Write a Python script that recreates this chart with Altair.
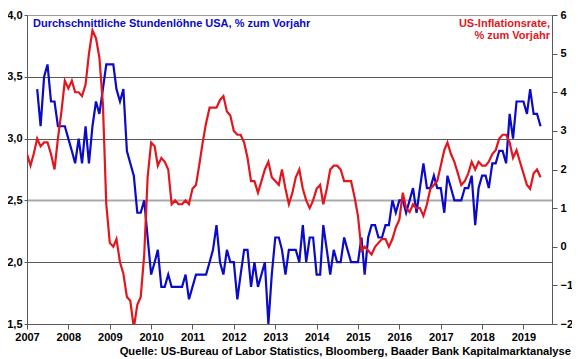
import altair as alt
import pandas as pd

# ---------------- data ----------------
years = list(range(2007, 2020))
left_ticks = [1.5, 2.0, 2.5, 3.0, 3.5, 4.0]
right_ticks = [-2, -1, 0, 1, 2, 3, 4, 5, 6]

# US inflation rate, % y/y, monthly Dec 2006 .. May 2019 (plotted at month end)
cpi_values = [
    2.4,
    2.1, 2.4, 2.8, 2.6, 2.7, 2.7, 2.4, 2.0, 2.8, 3.5, 4.3, 4.1,
    4.3, 4.0, 4.0, 3.9, 4.2, 5.0, 5.6, 5.4, 4.9, 3.7, 1.1, 0.1,
    0.0, 0.2, -0.4, -0.7, -1.3, -1.4, -2.1, -1.5, -1.3, -0.2, 1.8, 2.7,
    2.6, 2.1, 2.3, 2.2, 2.0, 1.1, 1.2, 1.1, 1.1, 1.2, 1.1, 1.5,
    1.6, 2.1, 2.7, 3.2, 3.6, 3.6, 3.6, 3.8, 3.9, 3.5, 3.4, 3.0,
    2.9, 2.9, 2.7, 2.3, 1.7, 1.7, 1.4, 1.7, 2.0, 2.2, 1.8, 1.7,
    1.6, 2.0, 1.5, 1.1, 1.4, 1.8, 2.0, 1.5, 1.2, 1.0, 1.2, 1.5,
    1.6, 1.1, 1.5, 2.0, 2.1, 2.1, 2.0, 1.7, 1.7, 1.7, 1.3, 0.8,
    -0.1, 0.0, -0.1, -0.2, 0.0, 0.1, 0.2, 0.2, 0.0, 0.2, 0.5, 0.7,
    1.4, 1.0, 0.9, 1.1, 1.0, 1.0, 0.8, 1.1, 1.5, 1.6, 1.7, 2.1,
    2.5, 2.7, 2.4, 2.2, 1.9, 1.6, 1.7, 1.9, 2.2, 2.0, 2.2, 2.1,
    2.1, 2.2, 2.4, 2.5, 2.8, 2.9, 2.9, 2.7, 2.3, 2.5, 2.2, 1.9,
    1.6, 1.5, 1.9, 2.0, 1.8,
]

# Average hourly earnings USA, % y/y, monthly Mar 2007 .. May 2019
wage_values = [
    3.4, 3.1, 3.5, 3.6, 3.3, 3.3, 3.1, 3.1, 3.1, 3.0,
    2.9, 2.8, 3.0, 2.8, 3.1, 2.8, 3.1, 3.3, 3.2, 3.4, 3.6, 3.6,
    3.6, 3.4, 3.3, 3.4, 2.9, 2.8, 2.7, 2.4, 2.4, 2.5, 2.2, 1.9,
    2.0, 2.1, 1.8, 1.8, 1.9, 1.8, 1.8, 1.8, 1.8, 1.9, 1.7, 1.8,
    1.9, 1.9, 1.9, 1.9, 2.0, 2.1, 2.3, 2.0, 1.9, 2.1, 2.0, 2.0,
    1.7, 1.9, 2.1, 2.1, 1.8, 2.0, 1.8, 1.9, 2.0, 1.5, 1.9, 2.2,
    2.2, 2.1, 1.9, 2.1, 2.1, 2.1, 2.0, 2.3, 2.0, 2.2, 2.2, 1.9,
    1.9, 2.3, 2.1, 1.9, 2.1, 2.0, 2.0, 2.2, 2.1, 2.0, 2.0, 2.0,
    2.2, 1.9, 2.2, 2.3, 2.3, 2.2, 2.2, 2.3, 2.3, 2.5, 2.4, 2.5,
    2.5, 2.4, 2.5, 2.6, 2.4, 2.6, 2.8, 2.6, 2.6, 2.7, 2.6, 2.6,
    2.4, 2.7, 2.6, 2.5, 2.5, 2.5, 2.6, 2.6, 2.7, 2.3, 2.6, 2.7,
    2.7, 2.6, 2.8, 2.8, 2.9, 2.9, 2.8, 3.2, 3.0, 3.3, 3.3, 3.3,
    3.2, 3.4, 3.2, 3.2, 3.1,
]

title_left = "Durchschnittliche Stundenlöhne USA, % zum Vorjahr"
title_right_1 = "US-Inflationsrate,"
title_right_2 = "% zum Vorjahr"
source_text = "Quelle: US-Bureau of Labor Statistics, Bloomberg, Baader Bank Kapitalmarktanalyse"

# month-end dates (== first day of the following month)
month_ends = pd.date_range("2007-01-01", periods=len(cpi_values), freq="MS")
cpi_df = pd.DataFrame({"date": month_ends, "cpi": cpi_values})
wage_df = pd.DataFrame({"date": month_ends[3:3 + len(wage_values)], "wage": wage_values})

# ---------------- styling ----------------
FONT = "Liberation Sans"
BLUE = "#0a0ac8"
RED = "#e3161d"
DARK = "#595959"

x_enc = alt.X(
    "date:T",
    scale=alt.Scale(domain=[alt.DateTime(year=2007, month=1, date=1),
                            alt.DateTime(year=2019, month=9, date=10)]),
    axis=alt.Axis(
        title=None, format="%Y",
        values=[alt.DateTime(year=y, month=1, date=1) for y in years],
        labelFont=FONT, labelFontWeight="bold", labelFontSize=11, labelColor="black",
        tickSize=5, tickColor=DARK, domainColor=DARK, labelPadding=2,
        grid=False, labelFlush=False, labelOverlap=False,
    ),
)

wage_line = alt.Chart(wage_df).mark_line(color=BLUE, strokeWidth=2.2, clip=True).encode(
    x=x_enc,
    y=alt.Y(
        "wage:Q",
        scale=alt.Scale(domain=[1.5, 4.0], nice=False, zero=False),
        axis=alt.Axis(
            title=None, values=left_ticks,
            labelExpr="replace(format(datum.value, '.1f'), '.', ',')",
            labelFont=FONT, labelFontWeight="bold", labelFontSize=11, labelColor="black",
            tickSize=3, tickColor=DARK, domainColor=DARK, labelPadding=2,
            grid=True,
            gridColor={"condition": [{"test": "datum.value == 2.5", "value": "#a8a8a8"},
                                     {"test": "datum.value == 4", "value": "#9a9a9a"}],
                       "value": DARK},
            gridWidth={"condition": {"test": "datum.value == 2.5", "value": 2}, "value": 1},
        ),
    ),
)

cpi_line = alt.Chart(cpi_df).mark_line(color=RED, strokeWidth=2.2, clip=True).encode(
    x=x_enc,
    y=alt.Y(
        "cpi:Q",
        scale=alt.Scale(domain=[-2, 6], nice=False, zero=False),
        axis=alt.Axis(
            orient="right", title=None, values=right_ticks, format="d",
            labelFont=FONT, labelFontWeight="bold", labelFontSize=11, labelColor="black",
            tickSize=5, tickColor=DARK, domainColor=DARK, labelPadding=3, grid=False,
        ),
    ),
)

txt_df = pd.DataFrame({"a": [0]})
t_left = alt.Chart(txt_df).mark_text(
    align="left", baseline="middle", font=FONT, fontWeight="bold", fontSize=11, color=BLUE
).encode(x=alt.value(6), y=alt.value(9), text=alt.value(title_left))
t_r1 = alt.Chart(txt_df).mark_text(
    align="right", baseline="middle", font=FONT, fontWeight="bold", fontSize=11, color=RED
).encode(x=alt.value(523), y=alt.value(9), text=alt.value(title_right_1))
t_r2 = alt.Chart(txt_df).mark_text(
    align="right", baseline="middle", font=FONT, fontWeight="bold", fontSize=11, color=RED
).encode(x=alt.value(523), y=alt.value(21), text=alt.value(title_right_2))
t_src = alt.Chart(txt_df).mark_text(
    align="right", baseline="middle", font=FONT, fontWeight="bold", fontSize=11.2, color="black"
).encode(x=alt.value(544), y=alt.value(337), text=alt.value(source_text))

chart = alt.layer(wage_line, cpi_line, t_left, t_r1, t_r2, t_src).resolve_scale(
    y="independent"
).properties(
    width=525, height=309,
    padding={"left": 19, "top": 7, "right": 20, "bottom": 35},
    autosize=alt.AutoSizeParams(type="none"),
).configure_view(stroke=None).configure(background="white")

chart.save("out.html", embed_options={"renderer": "svg", "actions": False})
